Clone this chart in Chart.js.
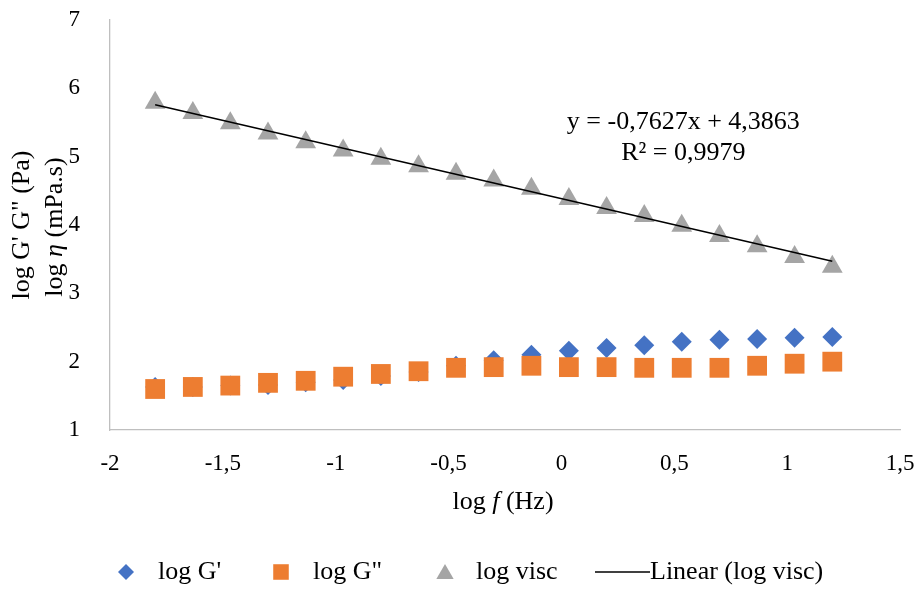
<!DOCTYPE html>
<html>
<head>
<meta charset="utf-8">
<script src="https://cdn.jsdelivr.net/npm/chart.js@4.4.1/dist/chart.umd.min.js"></script>
<style>
  html, body { margin: 0; padding: 0; background: #fff; }
  #wrap { width: 916px; height: 590px; position: relative; }
</style>
</head>
<body>
<div id="wrap"><canvas id="chart"></canvas></div>
<script>
// values
const logF = [-1.8, -1.633, -1.467, -1.3, -1.133, -0.967, -0.8, -0.633, -0.467, -0.3,
  -0.133, 0.033, 0.2, 0.367, 0.533, 0.7, 0.867, 1.033, 1.2];
const logGp = [1.63, 1.63, 1.65, 1.66, 1.70, 1.73, 1.79, 1.85, 1.94, 2.02,
  2.10, 2.16, 2.20, 2.24, 2.29, 2.32, 2.33, 2.35, 2.36];
const logGpp = [1.60, 1.63, 1.65, 1.69, 1.72, 1.78, 1.82, 1.86, 1.91, 1.92,
  1.94, 1.92, 1.92, 1.91, 1.91, 1.91, 1.94, 1.97, 2.00];
const logVisc = [5.79, 5.64, 5.49, 5.34, 5.21, 5.09, 4.97, 4.86, 4.75, 4.65,
  4.53, 4.38, 4.25, 4.13, 3.99, 3.84, 3.69, 3.53, 3.39];
const fitSlope = -0.7627;
const fitIntercept = 4.3863;
const fitLines = ['y = -0,7627x + 4,3863', 'R² = 0,9979'];
const fitLabelAt = [0.54, 5.5];
const seriesNames = ["log G'", 'log G"', 'log visc', 'Linear (log visc)'];

const FONT = '"Liberation Serif", "Times New Roman", serif';
const FS_TICK = 23;
const FS = 26;
const colors = { gp: '#4472C4', gpp: '#ED7D31', visc: '#A5A5A5', fit: '#000000' };

const pts = (ys) => logF.map((x, i) => ({ x: x, y: ys[i] }));
const fitEnds = [logF[0], logF[logF.length - 1]].map(x => ({ x: x, y: fitSlope * x + fitIntercept }));
const comma = v => String(Number(v.toFixed(2))).replace('.', ',');

function drawRuns(ctx, runs, cx, cy) {
  let w = 0;
  runs.forEach(r => { ctx.font = r.font; w += ctx.measureText(r.text).width; });
  let x = cx - w / 2;
  ctx.textAlign = 'left';
  ctx.textBaseline = 'middle';
  runs.forEach(r => {
    ctx.font = r.font;
    ctx.fillText(r.text, x, cy);
    x += ctx.measureText(r.text).width;
  });
}

const textPlugin = {
  id: 'texts',
  afterDraw(chart) {
    const { ctx, chartArea, scales: { x, y } } = chart;
    const up = `${FS}px ${FONT}`;
    const it = `italic ${FS}px ${FONT}`;
    ctx.save();
    ctx.fillStyle = '#000';

    // trendline label
    ctx.font = up;
    ctx.textAlign = 'center';
    ctx.textBaseline = 'middle';
    const ex = x.getPixelForValue(fitLabelAt[0]);
    const ey = y.getPixelForValue(fitLabelAt[1]);
    ctx.fillText(fitLines[0], ex, ey);
    ctx.fillText(fitLines[1], ex, ey + 31);

    // x title
    const midX = (chartArea.left + chartArea.right) / 2;
    drawRuns(ctx, [{ text: 'log ', font: up }, { text: 'f', font: it }, { text: ' (Hz)', font: up }],
      midX - 2, chartArea.bottom + 72);

    // y title, two lines
    const midY = (chartArea.top + chartArea.bottom) / 2;
    ctx.save();
    ctx.translate(22, midY);
    ctx.rotate(-Math.PI / 2);
    drawRuns(ctx, [{ text: 'log G\' G" (Pa)', font: up }], 0, 0);
    ctx.restore();
    ctx.save();
    ctx.translate(55, midY + 2);
    ctx.rotate(-Math.PI / 2);
    drawRuns(ctx, [{ text: 'log ', font: up }, { text: 'η', font: it }, { text: ' (mPa.s)', font: up }], 0, 0);
    ctx.restore();

    // legend
    const ly = 572;
    const items = [
      { style: 'rectRot', r: 8, color: colors.gp, px: 126, tx: 158 },
      { style: 'rect', r: 11, color: colors.gpp, px: 281, tx: 313 },
      { style: 'triangle', r: 10, color: colors.visc, px: 445, tx: 476 },
      { style: 'line', color: colors.fit, px: 595, tx: 650 }
    ];
    items.forEach((item, i) => {
      ctx.fillStyle = item.color;
      ctx.strokeStyle = item.color;
      if (item.style === 'line') {
        ctx.lineWidth = 1.5;
        ctx.beginPath();
        ctx.moveTo(item.px, ly);
        ctx.lineTo(item.tx, ly);
        ctx.stroke();
      } else {
        Chart.helpers.drawPoint(ctx, { pointStyle: item.style, radius: item.r, rotation: 0, borderWidth: 0 },
          item.px, item.style === 'triangle' ? ly + 2 : ly);
      }
      ctx.fillStyle = '#000';
      ctx.font = up;
      ctx.textAlign = 'left';
      ctx.textBaseline = 'middle';
      ctx.fillText(seriesNames[i], item.tx, ly);
    });
    ctx.restore();
  }
};

new Chart(document.getElementById('chart'), {
  type: 'scatter',
  data: {
    datasets: [
      {
        label: seriesNames[0], data: pts(logGp),
        pointStyle: 'rectRot', pointRadius: 10, borderWidth: 0,
        backgroundColor: colors.gp, borderColor: colors.gp, order: 3
      },
      {
        label: seriesNames[1], data: pts(logGpp),
        pointStyle: 'rect', pointRadius: 14, borderWidth: 0,
        backgroundColor: colors.gpp, borderColor: colors.gpp, order: 2
      },
      {
        label: seriesNames[2], data: pts(logVisc),
        pointStyle: 'triangle', pointRadius: 12, borderWidth: 0,
        backgroundColor: colors.visc, borderColor: colors.visc, order: 1
      },
      {
        label: seriesNames[3], data: fitEnds, showLine: true,
        pointRadius: 0, borderWidth: 1.5, borderColor: colors.fit, order: 0
      }
    ]
  },
  options: {
    responsive: true,
    maintainAspectRatio: false,
    animation: false,
    layout: { padding: { left: 0, top: 20, right: 16, bottom: 0 } },
    plugins: { legend: { display: false }, tooltip: { enabled: false } },
    scales: {
      x: {
        type: 'linear', min: -2, max: 1.5,
        ticks: { stepSize: 0.5, padding: 12, color: '#000', font: { family: FONT, size: FS_TICK }, callback: v => comma(v) },
        grid: { display: false },
        border: { display: true, color: '#BFBFBF', width: 1.3 },
        afterFit: s => { s.height = 160; s.paddingLeft = 0; s.paddingRight = 0; }
      },
      y: {
        type: 'linear', min: 1, max: 7,
        ticks: { stepSize: 1, padding: 22, color: '#000', font: { family: FONT, size: FS_TICK }, callback: v => comma(v) },
        grid: { display: false },
        border: { display: true, color: '#BFBFBF', width: 1.3 },
        afterFit: s => { s.width = 110; s.paddingTop = 0; s.paddingBottom = 0; }
      }
    }
  },
  plugins: [textPlugin]
});
</script>
</body>
</html>
